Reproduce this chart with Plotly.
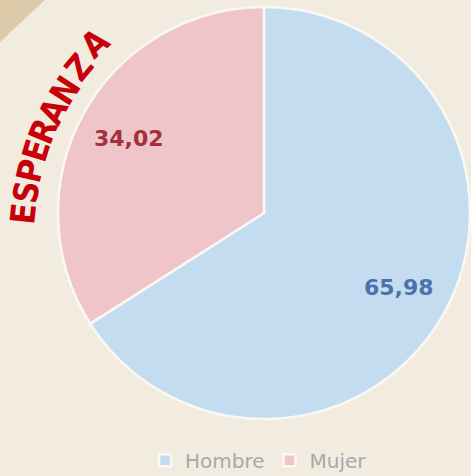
import math

import plotly.graph_objects as go

labels = ["Hombre", "Mujer"]
values = [65.98, 34.02]
slice_colors = ["#c4dcf0", "#efc5ca"]
text_colors = ["#4b72ad", "#a3303a"]

title_letters = list("ESPERANZA")
# hand placed along the arc (px in the 471x476 frame) and tilt of each letter
letter_pos = [(23, 214), (26, 192), (30, 171), (36, 151), (43, 131),
              (53, 111), (65, 90), (79, 67), (95, 43)]
letter_rot = [-84, -81, -77, -73, -68, -63, -57, -50, -42]

W, H = 471, 476
cx, cy, rad = 264, 213, 206  # pie centre / radius in px

fig = go.Figure(
    go.Pie(
        labels=labels,
        values=values,
        sort=False,
        direction="clockwise",
        rotation=0,
        marker=dict(colors=slice_colors, line=dict(color="#fbf8f3", width=2.5)),
        textinfo="none",
        hoverinfo="label+value",
        domain=dict(x=[(cx - rad) / W, (cx + rad) / W], y=[1 - (cy + rad) / H, 1 - (cy - rad) / H]),
    )
)

annotations = []
# value labels, placed at 3/4 of the radius along each slice's middle angle
total = sum(values)
start = 0.0
for val, col in zip(values, text_colors):
    mid = (start + val / 2) / total * 2 * math.pi
    start += val
    px = cx + 0.75 * rad * math.sin(mid)
    py = cy - 0.75 * rad * math.cos(mid)
    annotations.append(dict(
        text="<b>" + f"{val:.2f}".replace(".", ",") + "</b>",
        x=px / W, y=1 - py / H, xref="paper", yref="paper", showarrow=False,
        xanchor="center", yanchor="middle",
        font=dict(family="DejaVu Sans", size=22, color=col),
    ))

for ch, (px, py), rot in zip(title_letters, letter_pos, letter_rot):
    annotations.append(dict(
        text="<b>" + ch + "</b>", x=px / W, y=1 - py / H, xref="paper", yref="paper",
        showarrow=False, textangle=rot, xanchor="center", yanchor="middle",
        font=dict(family="Liberation Sans Narrow, DejaVu Sans Condensed, Open Sans",
                  size=34, color="#c8000a"),
    ))

fig.update_layout(
    width=W,
    height=H,
    margin=dict(l=0, r=0, t=0, b=0, autoexpand=False),
    paper_bgcolor="#f2ece0",
    plot_bgcolor="#f2ece0",
    annotations=annotations,
    shapes=[dict(type="path", xref="paper", yref="paper",
                 path="M 0 1 L 0.095 1 L 0 0.912 Z",
                 fillcolor="#dccaa8", line=dict(width=0), layer="below")],
    legend=dict(orientation="h", x=145 / W, xanchor="left", y=0.033, yanchor="middle",
                font=dict(family="DejaVu Sans", size=20, color="#a8a8a8"),
                itemwidth=30, bgcolor="rgba(0,0,0,0)"),
)

fig.write_html("out.html", config={"displayModeBar": False},
               post_script="document.body.style.margin='0';")
